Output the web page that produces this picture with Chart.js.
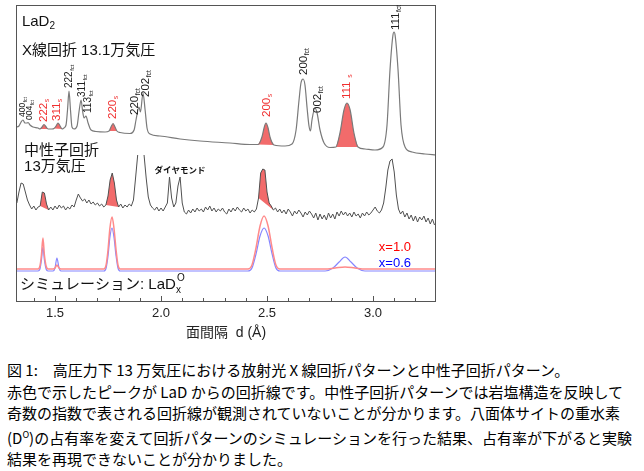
<!DOCTYPE html>
<html lang="ja">
<head>
<meta charset="UTF-8">
<title>LaD2 回折パターン</title>
<script src="https://cdn.jsdelivr.net/npm/chart.js"></script>
<style>
    body {
        margin: 0;
        background: #fff;
        font-family: "Liberation Sans", "Noto Sans CJK JP", sans-serif;
    }
    #wrap {
        position: relative;
        width: 644px;
        height: 345px;
    }
    #caption {
        font-family: "Noto Sans CJK JP", sans-serif;
        font-size: 15px;
        line-height: 21.5px;
        color: #000;
        margin: 14px 0 0 7px;
        white-space: nowrap;
    }
</style>
</head>
<body>
<div id="wrap"><canvas id="chart"></canvas></div>
<div id="caption">
図 1:　高圧力下 13 万気圧における放射光 X 線回折パターンと中性子回折パターン。<br>
赤色で示したピークが LaD からの回折線です。中性子回折パターンでは岩塩構造を反映して<br>
奇数の指数で表される回折線が観測されていないことが分かります。八面体サイトの重水素<br>
(D<sup style="font-size:9px">O</sup>)の占有率を変えて回折パターンのシミュレーションを行った結果、占有率が下がると実験<br>
結果を再現できないことが分かりました。
</div>
<script>
// d spacing (Å) and intensity for the X-ray pattern (13.1万気圧)
const xrayD = [1.316, 1.330, 1.340, 1.349, 1.358, 1.368, 1.373, 1.382, 1.396, 1.420,
    1.429, 1.439, 1.448, 1.458, 1.467, 1.486, 1.495, 1.505, 1.514, 1.524,
    1.533, 1.542, 1.552, 1.559, 1.566, 1.573, 1.580, 1.590, 1.604, 1.613,
    1.623, 1.630, 1.637, 1.646, 1.656, 1.670, 1.693, 1.736, 1.755, 1.764,
    1.774, 1.783, 1.792, 1.807, 1.854, 1.873, 1.882, 1.896, 1.903, 1.915,
    1.925, 1.934, 1.948, 1.995, 2.090, 2.184, 2.325, 2.420, 2.458, 2.476,
    2.486, 2.495, 2.505, 2.514, 2.533, 2.585, 2.618, 2.637, 2.651, 2.660,
    2.670, 2.679, 2.689, 2.698, 2.705, 2.712, 2.726, 2.736, 2.750, 2.769,
    2.797, 2.825, 2.844, 2.863, 2.877, 2.892, 2.910, 2.929, 2.962, 3.009,
    3.047, 3.066, 3.080, 3.094, 3.099, 3.104, 3.118, 3.132, 3.151, 3.184,
    3.245, 3.297];
const xrayI = [175, 176, 180, 182, 179, 179, 179.5, 177, 175, 174,
    173, 175, 177.5, 175, 173, 173, 173.5, 176, 179, 176,
    173, 174, 177, 192, 211, 192, 175, 173, 176, 190,
    202, 191, 184, 186, 179, 172, 170.5, 170, 171, 175,
    178.5, 175, 171, 169.5, 168.5, 172, 182, 195, 190, 209,
    192, 174, 168, 166, 163, 161, 159, 157.5, 157.5, 165,
    174, 179, 174, 165, 157, 156, 158, 172, 202, 219,
    223, 217, 194, 176, 171, 182, 194, 189, 172, 159,
    154.5, 155, 169, 192, 199, 192, 169, 155, 153, 152,
    155, 177, 232, 267, 270, 267, 232, 177, 155, 150,
    148, 147];
// LaD (rock salt) peaks, shaded red
const xrayRedRanges = [[1.429, 1.467], [1.495, 1.533], [1.755, 1.792], [2.458, 2.533], [2.825, 2.929]];

// neutron pattern (13万気圧), sampled every 0.01 Å from 1.32 Å
const neutronStart = 1.32;
const neutronStep = 0.01;
const neutronI = [99, 110, 119, 118, 110, 102, 97, 93, 96, 92,
    95, 96, 110, 109, 98, 92, 95, 92, 96, 93,
    97, 94, 96, 92, 95, 93, 97, 95, 102, 108,
    104, 101, 103, 99, 102, 98, 100, 97, 99, 96,
    98, 95, 97, 106, 122, 129, 119, 102, 95, 98,
    94, 97, 95, 98, 96, 102, 124, 147, null, null,
    147, 124, 105, 97, 94, 92, 95, 91, 94, 91,
    95, 99, 125, 104, 95, 99, 116, 125, 99, 90,
    88, 92, 89, 93, 90, 94, 91, 93, 90, 95,
    92, 96, 91, 94, 90, 93, 91, 94, 90, 88,
    93, 90, 94, 91, 95, 92, 90, 94, 91, 93,
    89, 92, 90, 93, 104, 129, 133, 132, 110, 99,
    96, 92, 94, 90, 93, 89, 92, 88, 93, 90,
    86, 91, 88, 92, 89, 85, 90, 87, 91, 88,
    84, 89, 82, 88, 83, 87, 82, 89, 84, 88,
    83, 90, 86, 91, 87, 90, 86, 89, 85, 90,
    86, 88, 84, 89, 86, 90, 87, 89, 92, 95,
    91, 89, 92, 99, 114, 132, 141, 143, 130, 107,
    93, 88, 91, 85, 89, 83, 87, 81, 86, 80,
    85, 82, 86, 80, 84, 78, 83, 77];
const neutronRedRanges = [[1.43, 1.47], [1.74, 1.80], [2.46, 2.53]];

// simulation LaDx (x = 1.0 red, x = 0.6 blue)
const simRedD = [1.316, 1.420, 1.429, 1.436, 1.443, 1.450, 1.458, 1.467, 1.491, 1.500,
    1.509, 1.519, 1.528, 1.731, 1.741, 1.750, 1.759, 1.769, 1.778, 1.788,
    1.797, 1.807, 2.410, 2.429, 2.448, 2.467, 2.486, 2.505, 2.524, 2.542,
    2.561, 2.774, 2.821, 2.868, 2.915, 2.962, 3.297];
const simRedI = [33, 33, 36, 47, 64, 47, 36, 33, 33, 34,
    37, 34, 33, 33, 37, 52, 74, 85, 74, 52,
    37, 33, 33, 37, 54, 76, 86, 76, 54, 37,
    33, 33, 34, 35, 34, 33, 33];
const simBlueD = [1.316, 1.420, 1.429, 1.436, 1.443, 1.450, 1.458, 1.467, 1.491, 1.500,
    1.509, 1.519, 1.528, 1.731, 1.741, 1.750, 1.759, 1.769, 1.778, 1.788,
    1.797, 1.807, 2.410, 2.429, 2.448, 2.467, 2.486, 2.505, 2.524, 2.542,
    2.561, 2.774, 2.811, 2.840, 2.868, 2.896, 2.925, 2.962, 3.297];
const simBlueI = [31, 31, 33, 42, 55, 42, 33, 31, 31, 34,
    44, 34, 31, 31, 34, 46, 65, 74, 65, 46,
    34, 31, 31, 34, 48, 66, 74, 66, 48, 34,
    31, 31, 34, 40, 45, 40, 34, 31, 31];

// peak index labels
const peakLabelD = [1.349, 1.382, 1.448, 1.509, 1.566, 1.627, 1.656, 1.774, 1.877, 1.929,
    2.500, 2.675, 2.741, 2.877, 3.108];
const peakLabelI = [185, 182, 180, 181, 214, 205, 189, 183, 187, 205,
    185, 227, 189, 203, 272];
const peakLabelMain = ['400', '004', '222', '311', '222', '311', '113', '220', '220', '202',
    '200', '200', '002', '111 ', '111'];
const peakLabelSub = ['fct', 'fct', 's', 's', 'fct', 'fct', 'fct', 's', 'fct', 'fct',
    's', 'fct', 'fct', 's', 'fct'];

const tickValues = [1.4, 1.5, 1.6, 1.7, 1.8, 1.9, 2.0, 2.1, 2.2, 2.3, 2.4, 2.5, 2.6, 2.7, 2.8, 2.9, 3.0, 3.1, 3.2];
const majorTicks = [1.5, 2.0, 2.5, 3.0];

const RED_FILL = '#f26b6b';
const LATIN = '"Liberation Sans", Arial, sans-serif';
const JP = '"Liberation Sans", "Noto Sans CJK JP", sans-serif';

function pts(ds, is) {
    return ds.map((d, i) => ({x: d, y: is[i]}));
}

const xrayPts = pts(xrayD, xrayI);
const neutronPts = neutronI.map((v, i) => ({x: Math.round((neutronStart + neutronStep * i) * 1000) / 1000, y: v}));

function slice(points, r) {
    return points.filter(p => p.x >= r[0] - 1e-6 && p.x <= r[1] + 1e-6);
}

const datasets = [
    {data: xrayPts, borderColor: '#7a7a7a', borderWidth: 1.2, cubicInterpolationMode: 'monotone'},
    {data: neutronPts, borderColor: '#505050', borderWidth: 1, tension: 0, spanGaps: false},
    {data: pts(simRedD, simRedI), borderColor: '#ff8a8a', borderWidth: 1.5, cubicInterpolationMode: 'monotone'},
    {data: pts(simBlueD, simBlueI), borderColor: '#8686ff', borderWidth: 1.2, cubicInterpolationMode: 'monotone'}
];
xrayRedRanges.forEach(r => datasets.push({
    data: slice(xrayPts, r), borderWidth: 0, backgroundColor: RED_FILL, fill: 'shape',
    cubicInterpolationMode: 'monotone'
}));
neutronRedRanges.forEach(r => datasets.push({
    data: slice(neutronPts, r), borderWidth: 0, backgroundColor: RED_FILL, fill: 'shape', tension: 0
}));

function richText(ctx, parts, x, y) {
    // parts: [text, size, dy]
    let cx = x;
    parts.forEach(p => {
        ctx.font = p[1] + 'px ' + JP;
        ctx.fillText(p[0], cx, y + (p[2] || 0));
        cx += ctx.measureText(p[0]).width;
    });
}

const decor = {
    id: 'decor',
    afterDatasetsDraw(chart) {
        const {ctx, chartArea: a, scales: {x, y}} = chart;
        ctx.save();
        ctx.strokeStyle = '#555';
        ctx.lineWidth = 1;
        ctx.strokeRect(a.left + 0.5, a.top + 0.5, a.right - a.left - 1, a.bottom - a.top - 1);
        tickValues.forEach(v => {
            const px = Math.round(x.getPixelForValue(v)) + 0.5;
            const len = majorTicks.includes(v) ? 5 : 3;
            ctx.beginPath();
            ctx.moveTo(px, a.bottom - 1);
            ctx.lineTo(px, a.bottom - 1 - len);
            ctx.stroke();
        });

        ctx.textBaseline = 'middle';
        ctx.textAlign = 'left';
        ctx.fillStyle = '#111';
        richText(ctx, [['LaD', 15], ['2', 10, 4]], x.getPixelForValue(1.344), y.getPixelForValue(280));
        richText(ctx, [['X線回折 13.1万気圧', 15]], x.getPixelForValue(1.344), y.getPixelForValue(251));
        richText(ctx, [['中性子回折', 15]], x.getPixelForValue(1.354), y.getPixelForValue(151));
        richText(ctx, [['13万気圧', 15]], x.getPixelForValue(1.354), y.getPixelForValue(135));
        richText(ctx, [['シミュレーション: LaD', 15]], x.getPixelForValue(1.335), y.getPixelForValue(17));
        ctx.font = '15px ' + JP;
        const sx = x.getPixelForValue(1.335) + ctx.measureText('シミュレーション: LaD').width;
        const sy = y.getPixelForValue(17);
        richText(ctx, [['x', 10]], sx, sy + 5);
        richText(ctx, [['O', 10]], sx + 1, sy - 7);

        ctx.textAlign = 'center';
        ctx.font = 'bold 8.5px ' + JP;
        ctx.fillText('ダイヤモンド', x.getPixelForValue(2.090), y.getPixelForValue(131));

        ctx.textAlign = 'right';
        ctx.font = '13px ' + LATIN;
        ctx.fillStyle = '#ff0000';
        ctx.fillText('x=1.0', x.getPixelForValue(3.179), y.getPixelForValue(55));
        ctx.fillStyle = '#0000ff';
        ctx.fillText('x=0.6', x.getPixelForValue(3.179), y.getPixelForValue(39));

        const small = ['400fct', '004fct'];
        const med = ['222fct', '311fct', '113fct'];
        peakLabelD.forEach((d, i) => {
            const main = peakLabelMain[i];
            const sub = peakLabelSub[i];
            const key = main.trim() + sub;
            const size = small.includes(key) ? 8.5 : med.includes(key) ? 10 : 11.5;
            ctx.save();
            ctx.translate(x.getPixelForValue(d), y.getPixelForValue(peakLabelI[i]));
            ctx.rotate(-Math.PI / 2);
            ctx.textAlign = 'left';
            ctx.textBaseline = 'middle';
            ctx.fillStyle = sub === 's' ? '#f03030' : '#222';
            ctx.font = size + 'px ' + LATIN;
            ctx.fillText(main, 0, 0);
            const w = ctx.measureText(main).width;
            ctx.font = (size * 0.6) + 'px ' + LATIN;
            ctx.fillText(sub, w + 0.5, size * 0.3);
            ctx.restore();
        });
        ctx.restore();
    }
};

new Chart(document.getElementById('chart'), {
    type: 'line',
    data: {datasets: datasets},
    options: {
        responsive: true,
        maintainAspectRatio: false,
        animation: false,
        devicePixelRatio: 1,
        layout: {padding: {left: 16, right: 208, top: 5, bottom: 0}},
        elements: {point: {radius: 0}},
        plugins: {legend: {display: false}, tooltip: {enabled: false}},
        scales: {
            x: {
                type: 'linear',
                min: 1.316,
                max: 3.297,
                grid: {display: false, drawTicks: false},
                border: {display: false},
                afterBuildTicks: s => { s.ticks = tickValues.map(v => ({value: v})); },
                afterFit: s => { s.height = 43; },
                ticks: {
                    autoSkip: false,
                    maxRotation: 0,
                    padding: 4,
                    color: '#222',
                    font: {family: LATIN, size: 13},
                    callback: v => majorTicks.includes(v) ? v.toFixed(1) : ''
                },
                title: {
                    display: true,
                    text: '面間隔  d (Å)',
                    color: '#222',
                    font: {family: JP, size: 14},
                    padding: {top: 0, bottom: 3}
                }
            },
            y: {display: false, min: 0, max: 297}
        }
    },
    plugins: [decor]
});
</script>
</body>
</html>
